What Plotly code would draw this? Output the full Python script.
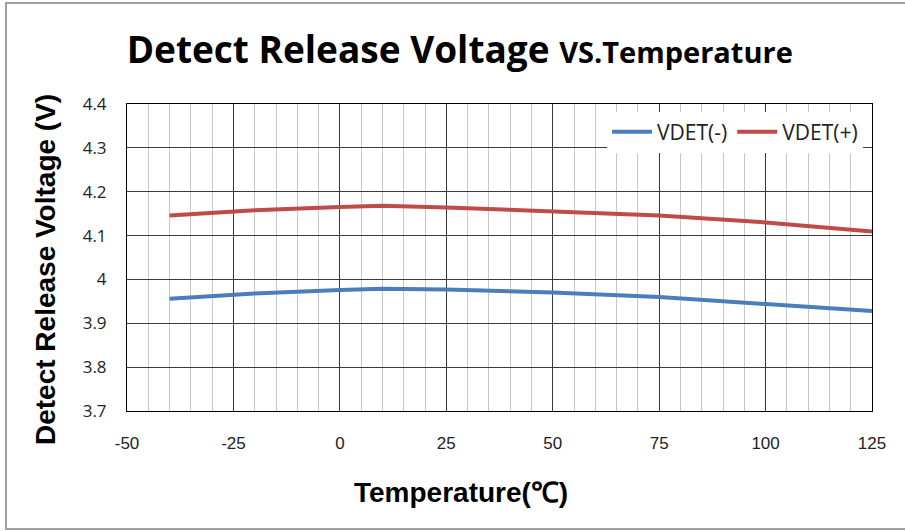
import plotly.graph_objects as go

temps = [-40, -20, 0, 10, 25, 50, 75, 100, 125]
vdet_minus = [3.956, 3.968, 3.976, 3.979, 3.977, 3.970, 3.960, 3.945, 3.928]
vdet_plus = [4.146, 4.158, 4.165, 4.168, 4.164, 4.156, 4.146, 4.130, 4.109]
x_ticks = [-50, -25, 0, 25, 50, 75, 100, 125]
y_ticks = [3.7, 3.8, 3.9, 4.0, 4.1, 4.2, 4.3, 4.4]
y_labels = ["3.7", "3.8", "3.9", "4", "4.1", "4.2", "4.3", "4.4"]

fig = go.Figure()
fig.add_trace(go.Scatter(x=temps, y=vdet_minus, mode="lines", name="VDET(-)",
                         line=dict(color="#4a7ebb", width=4)))
fig.add_trace(go.Scatter(x=temps, y=vdet_plus, mode="lines", name="VDET(+)",
                         line=dict(color="#be4b48", width=4)))

W, H = 905, 531
L, R, T, B = 127, 33, 104, 120
pw, ph = W - L - R, H - T - B
fig.update_layout(
    width=W, height=H,
    margin=dict(l=L, r=R, t=T, b=B),
    paper_bgcolor="white", plot_bgcolor="white",
    title=dict(
        text="<b>Detect Release Voltage <span style='font-size:29px'>VS.Temperature</span></b>",
        x=0.508, xanchor="center", y=0.905, yanchor="middle",
        font=dict(family="Open Sans", size=37, color="black"),
    ),
    font=dict(family="Open Sans", color="#222"),
    showlegend=True,
    legend=dict(orientation="h", x=0.988, xanchor="right", y=0.975, yanchor="top",
                bgcolor="white", font=dict(family="Open Sans", size=21, color="#222"),
                itemwidth=40, tracegroupgap=0),
    xaxis=dict(
        range=[-50, 125], tickvals=x_ticks, ticktext=[str(v) for v in x_ticks],
        showgrid=True, gridcolor="#3a3a3a", gridwidth=1,
        minor=dict(dtick=5, tick0=0, showgrid=True, gridcolor="#c8c8c8", gridwidth=1),
        showline=True, linecolor="black", linewidth=1, mirror=True,
        ticks="", ticklabelstandoff=17, zeroline=False,
        tickfont=dict(family="Liberation Sans", size=17, color="#222"),
    ),
    yaxis=dict(
        range=[3.7, 4.4], tickvals=y_ticks, ticktext=y_labels,
        showgrid=True, gridcolor="#3a3a3a", gridwidth=1,
        showline=True, linecolor="black", linewidth=1, mirror=True,
        ticks="", ticklabelstandoff=16, zeroline=False,
        tickfont=dict(family="Open Sans", size=17, color="#222"),
    ),
)

# axis titles (positioned as in the reference)
fig.add_annotation(text="<b>Temperature(℃)</b>", xref="paper", yref="paper",
                   x=(461 - L) / pw, y=(H - B - 492) / ph, xanchor="center", yanchor="middle",
                   showarrow=False, font=dict(family="Liberation Sans", size=28, color="black"))
fig.add_annotation(text="<b>Detect Release Voltage (V)</b>", xref="paper", yref="paper",
                   x=(45 - L) / pw, y=(H - B - 270) / ph, xanchor="center", yanchor="middle",
                   textangle=-90, showarrow=False,
                   font=dict(family="Liberation Sans", size=28, color="black"))

# outer chart-area border (left, top, bottom; right edge lies outside the view)
x0, x1 = (6 - L) / pw, (1100 - L) / pw
y0, y1 = (H - B - 529) / ph, (H - B - 3) / ph
fig.add_shape(type="path", xref="paper", yref="paper",
              path=f"M {x1},{y1} L {x0},{y1} L {x0},{y0} L {x1},{y0}",
              line=dict(color="#a0a0a0", width=2), layer="below")

fig.write_html("out.html", config={"displayModeBar": False},
               post_script="document.body.style.margin='0px';")
